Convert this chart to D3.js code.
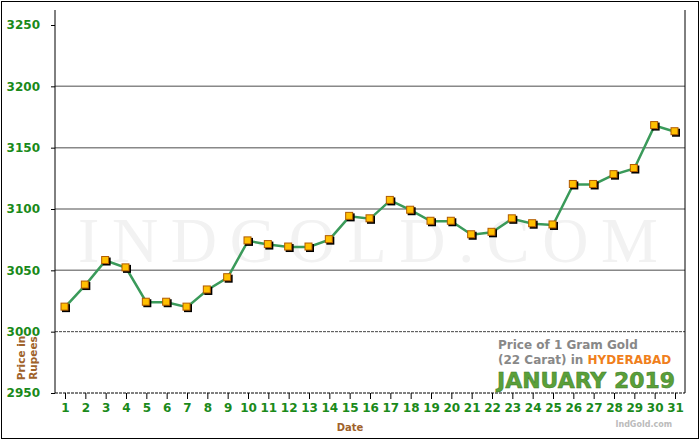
<!DOCTYPE html>
<html><head><meta charset="utf-8">
<script src="https://cdn.jsdelivr.net/npm/d3@7"></script>
<style>body{margin:0;background:#fff}</style>
</head><body>
<svg id="c" width="700" height="440"></svg>
<script>
var days = d3.range(1, 32);
var prices = [3020,3038,3058,3052,3024,3024,3020,3034,3044,3074,3071,3069,3069,3075,3094,3092,3107,3099,3090,3090,3079,3081,3092,3088,3087,3120,3120,3128,3133,3168,3163];
var yTicks = [2950,3000,3050,3100,3150,3200,3250];

var svg = d3.select('#c');
svg.append('rect').attr('x',1.5).attr('y',1.5).attr('width',697).attr('height',437).attr('fill','#fff').attr('stroke','#000');

var L = 55, R = 685, T = 25, B = 393;
var x = d3.scaleLinear().domain([1,31]).range([65,675]);
var y = d3.scaleLinear().domain([2950,3250]).range([B,T]);

// watermark
svg.append('text').attr('x',368).attr('y',262).attr('text-anchor','middle')
  .attr('font-family','Liberation Serif').attr('font-size',64).attr('fill','#f2f2f2')
  .attr('textLength',580).attr('lengthAdjust','spacing').text('INDGOLD.COM');

yTicks.forEach(function(v){
  if (v === 2950 || v === 3250) return;
  svg.append('line').attr('x1',L).attr('x2',R).attr('y1',y(v)).attr('y2',y(v))
    .attr('stroke', v === 3000 ? '#444' : '#888').attr('stroke-width', v === 3000 ? 1 : 1.5)
    .attr('stroke-dasharray', v === 3000 ? '3,1' : null);
});
svg.append('line').attr('x1',L).attr('x2',R).attr('y1',B).attr('y2',B).attr('stroke','#000').attr('stroke-dasharray','3,1');
svg.append('line').attr('x1',L).attr('x2',L).attr('y1',T-15).attr('y2',B).attr('stroke','#000');
svg.append('line').attr('x1',R).attr('x2',R).attr('y1',T-15).attr('y2',B).attr('stroke','#000');

var ya = svg.append('g').attr('transform','translate('+L+',0)')
  .call(d3.axisLeft(y).tickValues(yTicks).tickSize(4).tickFormat(d3.format('d')));
ya.select('.domain').remove();
ya.selectAll('text').attr('font-family','Verdana, DejaVu Sans').attr('font-size',12).attr('font-weight','bold').attr('fill','#1a8a1a').attr('dx',-8);

var xa = svg.append('g').attr('transform','translate(0,'+B+')')
  .call(d3.axisBottom(x).tickValues(days).tickSize(6).tickFormat(d3.format('d')));
xa.select('.domain').remove();
xa.selectAll('text').attr('font-family','Verdana, DejaVu Sans').attr('font-size',12).attr('font-weight','bold').attr('fill','#1a8a1a').attr('dy',10);

svg.append('text').attr('x',350).attr('y',431).attr('text-anchor','middle').attr('font-family','Verdana, DejaVu Sans')
  .attr('font-size',10).attr('font-weight','bold').attr('fill','#a0622a').text('Date');
var yl = svg.append('text').attr('transform','translate(31,358) rotate(-90)').attr('text-anchor','middle')
  .attr('font-family','Verdana, DejaVu Sans').attr('font-size',10.5).attr('font-weight','bold').attr('fill','#a0622a');
yl.append('tspan').attr('x',0).attr('dy',-6).text('Price in');
yl.append('tspan').attr('x',0).attr('dy',12).text('Rupees');

// legend box
svg.append('rect').attr('x',492).attr('y',333).attr('width',192).attr('height',59).attr('fill','#fff');
svg.append('text').attr('x',498).attr('y',349).attr('font-family','Verdana, DejaVu Sans').attr('font-size',12).attr('font-weight','bold').attr('fill','#888').text('Price of 1 Gram Gold');
var t2 = svg.append('text').attr('x',498).attr('y',364).attr('font-family','Verdana, DejaVu Sans').attr('font-size',12).attr('font-weight','bold').attr('fill','#888').text('(22 Carat) in ');
t2.append('tspan').attr('fill','#f07f1c').text('HYDERABAD');
svg.append('text').attr('x',497).attr('y',388).attr('font-family','Verdana, DejaVu Sans').attr('font-size',21).attr('font-weight','bold').attr('fill','#5aa03a').attr('stroke','#3d7a25').attr('stroke-width',0.5)
  .attr('textLength',178).attr('lengthAdjust','spacingAndGlyphs').text('JANUARY 2019');
svg.append('text').attr('x',672).attr('y',427).attr('text-anchor','end').attr('font-family','Verdana, DejaVu Sans').attr('font-size',8).attr('font-weight','bold').attr('fill','#bbb').text('IndGold.com');

var line = d3.line().x(function(d,i){return x(days[i]);}).y(function(d){return y(d);});
svg.append('path').datum(prices).attr('d',line).attr('fill','none').attr('stroke','#3a9a5a').attr('stroke-width',2.5);

var pts = svg.append('g').selectAll('g').data(prices).enter().append('g')
  .attr('transform',function(d,i){return 'translate('+x(days[i])+','+y(d)+')';});
pts.append('rect').attr('x',-3).attr('y',-3).attr('width',8).attr('height',8).attr('fill','#000');
pts.append('rect').attr('x',-4).attr('y',-4).attr('width',7).attr('height',7).attr('fill','#ffc000').attr('stroke','#b05a00').attr('stroke-width',1);
</script>
</body></html>
